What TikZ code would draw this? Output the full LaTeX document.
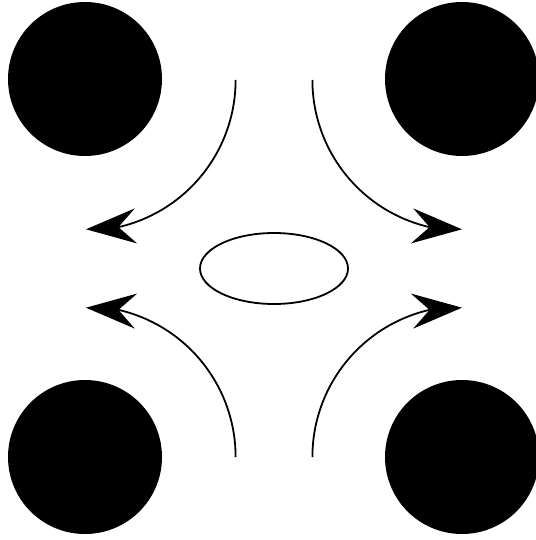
\documentclass[tikz,border=0pt]{standalone}
\usetikzlibrary{arrows.meta,shapes.geometric}
\begin{document}
\begin{tikzpicture}[x=1pt,y=-1pt,
  blob/.style={circle,fill=black,draw=none,minimum size=154pt,inner sep=0pt},
  ring/.style={ellipse,draw=black,line width=1.8pt,minimum width=148pt,minimum height=71pt,inner sep=0pt},
  flow/.style={line width=1.8pt},
  tip/.style={line width=1.8pt,-{Stealth[length=50pt,width=35pt,inset=17.5pt]}}]
\useasboundingbox (0,0) rectangle (535,540);
\node[blob] (tl) at (85,79) {};
\node[blob] (tr) at (462,79) {};
\node[blob] (bl) at (85,457) {};
\node[blob] (br) at (462,457) {};
\node[ring] (e) at (274,268.5) {};
% start, notch, tip
\coordinate (s1) at (235.6,80);  \coordinate (n1) at (118.6,227.1); \coordinate (t1) at (86,229.3);
\coordinate (s2) at (312.4,80);  \coordinate (n2) at (429.4,227.1); \coordinate (t2) at (462,229.3);
\coordinate (s3) at (235.6,457); \coordinate (n3) at (118.6,309.9); \coordinate (t3) at (86,307.7);
\coordinate (s4) at (312.4,457); \coordinate (n4) at (429.4,309.9); \coordinate (t4) at (462,307.7);
\draw[flow] (s1) .. controls (235.6,150.3) and (187.1,211.3) .. (n1);
\draw[flow] (s2) .. controls (312.4,150.3) and (360.9,211.3) .. (n2);
\draw[flow] (s3) .. controls (235.6,386.7) and (187.1,325.7) .. (n3);
\draw[flow] (s4) .. controls (312.4,386.7) and (360.9,325.7) .. (n4);
\draw[tip] (n1) -- (t1);
\draw[tip] (n2) -- (t2);
\draw[tip] (n3) -- (t3);
\draw[tip] (n4) -- (t4);
\end{tikzpicture}
\end{document}
